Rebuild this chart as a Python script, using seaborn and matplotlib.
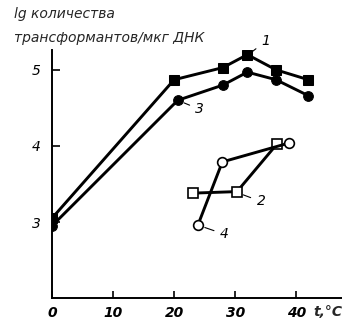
import matplotlib
matplotlib.use("Agg")
import matplotlib.pyplot as plt
import seaborn as sns
import pandas as pd

# температура, lg числа трансформантов
t1 = [0, 20, 28, 32, 36.7, 42]
y1 = [3.05, 4.87, 5.03, 5.2, 5.0, 4.87]
t3 = [0, 20.6, 28, 32, 36.7, 42]
y3 = [2.95, 4.6, 4.8, 4.97, 4.87, 4.66]
t2 = [23.1, 30.3, 36.9]
y2 = [3.38, 3.4, 4.03]
t4 = [23.9, 27.9, 38.9]
y4 = [2.96, 3.79, 4.04]
xticks = [0, 10, 20, 30, 40]
yticks = [3, 4, 5]

sns.set_style("ticks")
plt.rcParams['font.family'] = ['DejaVu Sans']

fig = plt.figure(figsize=(3.42, 3.23), dpi=100)
ax = fig.add_axes([0.152, 0.077, 0.848, 0.768])

lw = 2.1
sns.lineplot(x=t1, y=y1, ax=ax, color="black", lw=lw, marker="s", markersize=7,
             markeredgecolor="black", sort=False)
sns.lineplot(x=t3, y=y3, ax=ax, color="black", lw=lw, marker="o", markersize=7,
             markeredgecolor="black", sort=False)
sns.lineplot(x=t2, y=y2, ax=ax, color="black", lw=lw, marker="s", markersize=7,
             markerfacecolor="white", markeredgecolor="black", markeredgewidth=1.2, sort=False)
sns.lineplot(x=t4, y=y4, ax=ax, color="black", lw=lw, marker="o", markersize=7,
             markerfacecolor="white", markeredgecolor="black", markeredgewidth=1.2, sort=False)

ax.set_xlim(0, 47.5)
ax.set_ylim(2, 5.26)
ax.set_xticks(xticks)
ax.set_yticks(yticks)
ax.set_xticklabels([str(v) for v in xticks], style="italic", fontsize=10, fontweight="bold")
ax.set_yticklabels([str(v) for v in yticks], style="italic", fontsize=10)
ax.tick_params(direction="in", length=5, width=1.2, colors="black")
ax.tick_params(axis="x", pad=6)
ax.tick_params(axis="y", pad=8, length=6)
for s in ["top", "right"]:
    ax.spines[s].set_visible(False)
for s in ["left", "bottom"]:
    ax.spines[s].set_linewidth(1.4)
    ax.spines[s].set_color("black")
ax.set_xlabel("")
ax.set_ylabel("")

# подписи кривых
kw = dict(style="italic", fontsize=10, color="black")
ax.annotate("1", xy=(32.5, 5.22), xytext=(34.3, 5.38), ha="left", va="center",
            arrowprops=dict(arrowstyle="-", lw=0.8, color="black"), annotation_clip=False, **kw)
ax.annotate("3", xy=(21.2, 4.58), xytext=(23.5, 4.48), ha="left", va="center",
            arrowprops=dict(arrowstyle="-", lw=0.8, color="black"), **kw)
ax.annotate("2", xy=(30.9, 3.37), xytext=(33.5, 3.27), ha="left", va="center",
            arrowprops=dict(arrowstyle="-", lw=0.8, color="black"), **kw)
ax.annotate("4", xy=(24.6, 2.94), xytext=(27.5, 2.84), ha="left", va="center",
            arrowprops=dict(arrowstyle="-", lw=0.8, color="black"), **kw)

fig.text(0.96, 0.035, "t,°C", style="italic", fontsize=10, fontweight="bold", ha="center", va="center")
fig.text(0.04, 0.957, "lg количества", style="italic", fontsize=10, ha="left", va="center")
fig.text(0.04, 0.882, "трансформантов/мкг ДНК", style="italic", fontsize=10, ha="left", va="center")

fig.savefig("out.png", dpi=100)
